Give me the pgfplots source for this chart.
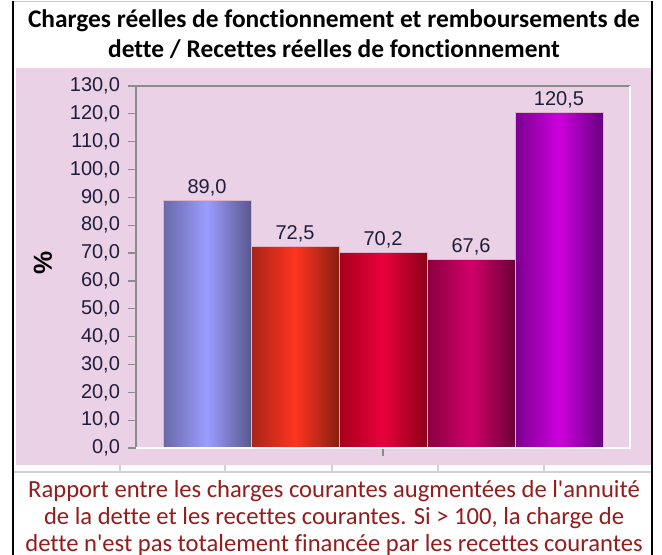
\documentclass[border=0pt]{standalone}
\usepackage{pgfplots}
\pgfplotsset{compat=1.18}
\usepackage{fontspec}
\setmainfont{Liberation Sans}
\newfontfamily\calibri[Ligatures=NoCommon]{Carlito}

\definecolor{panel}{RGB}{235,209,230}
\definecolor{capred}{RGB}{150,28,28}
\definecolor{lblblue}{RGB}{30,30,60}
\definecolor{framegray}{RGB}{140,140,140}
% bar gradients: left edge, highlight, right edge
\definecolor{bAl}{RGB}{104,104,168}\definecolor{bAm}{RGB}{156,156,255}\definecolor{bAr}{RGB}{88,88,142}
\definecolor{bBl}{RGB}{168,36,24}\definecolor{bBm}{RGB}{255,52,32}\definecolor{bBr}{RGB}{136,32,16}
\definecolor{bCl}{RGB}{168,0,30}\definecolor{bCm}{RGB}{232,0,58}\definecolor{bCr}{RGB}{140,0,24}
\definecolor{bDl}{RGB}{138,0,64}\definecolor{bDm}{RGB}{208,0,104}\definecolor{bDr}{RGB}{106,0,56}
\definecolor{bEl}{RGB}{122,0,144}\definecolor{bEm}{RGB}{204,0,221}\definecolor{bEr}{RGB}{104,0,128}

\begin{document}
\begin{tikzpicture}
\path[use as bounding box, fill=white] (0,0) rectangle (331pt,277.5pt);
% panel and spreadsheet remnants
\fill[panel] (8pt,45pt) rectangle (325.5pt,243.5pt);
\draw[gray!35, line width=1pt] (6.5pt,41.5pt) -- (326pt,41.5pt);
\foreach \gx in {60,112.5,166,219,272}
  \draw[gray!35, line width=0.8pt] (\gx pt,45pt) -- (\gx pt,41.5pt);
\draw[gray!40, line width=0.8pt] (6.5pt,276.8pt) -- (326pt,276.8pt);
\draw[black, line width=1.4pt] (6.5pt,0) -- (6.5pt,276.8pt);
\draw[black, line width=1.4pt] (326pt,0) -- (326pt,276.8pt);

% title and caption
\node[font=\calibri\bfseries\fontsize{12.7}{14}\selectfont] at (167pt,267pt) {Charges réelles de fonctionnement et remboursements de};
\node[font=\calibri\bfseries\fontsize{12.7}{14}\selectfont] at (167pt,253pt) {dette / Recettes réelles de fonctionnement};
\node[font=\calibri\fontsize{12.3}{14}\selectfont, text=capred] at (167pt,32pt) {Rapport entre les charges courantes augmentées de l'annuité};
\node[font=\calibri\fontsize{12.3}{14}\selectfont, text=capred] at (167pt,18.5pt) {de la dette et les recettes courantes. Si > 100, la charge de};
\node[font=\calibri\fontsize{12.3}{14}\selectfont, text=capred] at (167pt,5.2pt) {dette n'est pas totalement financée par les recettes courantes};

\node[rotate=90, font=\bfseries\fontsize{13}{15}\selectfont] at (21.5pt,146pt) {\%};

\begin{axis}[
  at={(68pt,53.5pt)}, anchor=south west,
  scale only axis, width=247pt, height=181pt,
  xmin=-0.807, xmax=4.807, ymin=0, ymax=130,
  ytick={0,10,...,130},
  xtick={2}, xticklabels={},
  tick pos=left, tick align=outside,
  major tick length=4pt,
  tick style={framegray, line width=0.6pt},
  axis line style={draw=none},
  yticklabel style={font=\fontsize{10}{12}\selectfont, text=lblblue, xshift=-0.5pt,
    /pgf/number format/.cd, fixed, fixed zerofill, precision=1, use comma},
  /pgf/number format/assume math mode=true,
  ybar, bar width=1, bar shift=0,
  nodes near coords={\pgfmathprintnumber[fixed,fixed zerofill,precision=1,use comma,assume math mode=true]{\pgfplotspointmeta}},
  nodes near coords style={font=\fontsize{10}{12}\selectfont, text=lblblue, inner sep=2pt},
  clip=false,
]
\addplot[draw={rgb,255:red,220;green,180;blue,205}, line width=0.3pt, left color=bAl, right color=bAr, middle color=bAm] coordinates {(0,89.0)};
\addplot[draw={rgb,255:red,220;green,180;blue,205}, line width=0.3pt, left color=bBl, right color=bBr, middle color=bBm] coordinates {(1,72.5)};
\addplot[draw={rgb,255:red,220;green,180;blue,205}, line width=0.3pt, left color=bCl, right color=bCr, middle color=bCm] coordinates {(2,70.2)};
\addplot[draw={rgb,255:red,220;green,180;blue,205}, line width=0.3pt, left color=bDl, right color=bDr, middle color=bDm] coordinates {(3,67.6)};
\addplot[draw={rgb,255:red,220;green,180;blue,205}, line width=0.3pt, left color=bEl, right color=bEr, middle color=bEm] coordinates {(4,120.5)};
% frame: grey left and top, white right and bottom
\draw[framegray, line width=0.7pt] (rel axis cs:0,0) -- (rel axis cs:0,1) -- (rel axis cs:1,1);
\draw[white, line width=0.8pt] (rel axis cs:0,0) -- (rel axis cs:1,0) -- (rel axis cs:1,1);
\end{axis}
\end{tikzpicture}
\end{document}
